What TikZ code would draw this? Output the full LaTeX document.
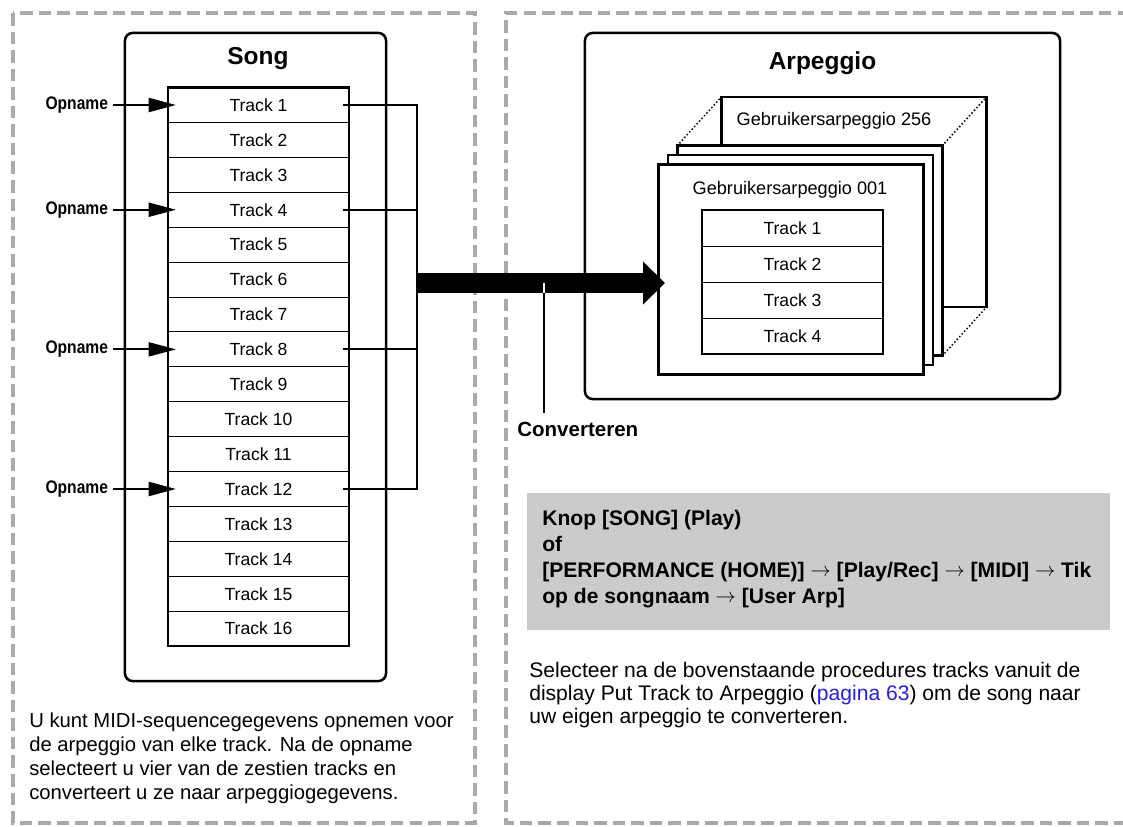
\documentclass[tikz,border=0pt]{standalone}
\usepackage{fontspec}
\setmainfont{Liberation Sans}
\newfontfamily\narrowfont[FakeStretch=0.86]{Liberation Sans}
\newcommand\nextstep{\raisebox{0.8pt}{\fontsize{14}{14}\selectfont$\rightarrow$}}
\usepackage{xcolor}
\usetikzlibrary{positioning,arrows.meta,calc}
\definecolor{dashgray}{HTML}{A9A9AB}
\definecolor{panelfill}{HTML}{CBCBCB}
\definecolor{linkblue}{HTML}{2020F0}

\begin{document}
\begin{tikzpicture}[x=0.025cm,y=-0.025cm,
panel/.style={draw=dashgray,line width=2.8pt,dash pattern=on 8.9pt off 4.3pt},
frame/.style={rectangle,draw,rounded corners=5.5pt,line width=1.8pt,inner sep=0pt},
track/.style={rectangle,draw,line width=0.7pt,inner sep=0pt,outer sep=0pt,
minimum width=4.525cm,minimum height=0.8725cm,font=\fontsize{12.5}{15}\selectfont},
arptrack/.style={track,minimum height=0.9cm},
card/.style={rectangle,draw,fill=white,line width=1.7pt,inner sep=0pt,outer sep=0pt,
minimum width=6.625cm,minimum height=5.25cm},
cardname/.style={anchor=base,font=\fontsize{12.9}{15}\selectfont},
title/.style={anchor=base,font=\bfseries\fontsize{17.4}{20}\selectfont},
rec/.style={font=\narrowfont\bfseries\fontsize{12.9}{15}\selectfont},
feed/.style={line width=1.4pt,-{Triangle[length=19.5pt,width=10pt]}},
link/.style={line width=1.4pt},
convert/.style={line width=14.2pt,-{Triangle[length=15.6pt,width=30.6pt,line width=0pt]}},
spread/.style={line width=1.5pt,line cap=round,dash pattern=on 0pt off 2.6pt},
note/.style={anchor=north west,align=left,inner sep=0pt,font=\fontsize{14.4}{17}\selectfont}]

\useasboundingbox (0,0) rectangle (1123,827);

% dashed panels
\draw[panel] (13,13) rectangle (475,823);
\draw[panel] (1130,13) -- (506,13) -- (506,823) -- (1130,823);

% song
\node[frame,minimum width=6.525cm,minimum height=16.2cm] (song) at (255.5,357) {};
\node[title] (song title) at (258,65) {Song};
\node[track] (track 1) at (258.5,105) {Track 1};
\node[track] (track 2) [below=0pt of track 1] {Track 2};
\node[track] (track 3) [below=0pt of track 2] {Track 3};
\node[track] (track 4) [below=0pt of track 3] {Track 4};
\node[track] (track 5) [below=0pt of track 4] {Track 5};
\node[track] (track 6) [below=0pt of track 5] {Track 6};
\node[track] (track 7) [below=0pt of track 6] {Track 7};
\node[track] (track 8) [below=0pt of track 7] {Track 8};
\node[track] (track 9) [below=0pt of track 8] {Track 9};
\node[track] (track 10) [below=0pt of track 9] {Track 10};
\node[track] (track 11) [below=0pt of track 10] {Track 11};
\node[track] (track 12) [below=0pt of track 11] {Track 12};
\node[track] (track 13) [below=0pt of track 12] {Track 13};
\node[track] (track 14) [below=0pt of track 13] {Track 14};
\node[track] (track 15) [below=0pt of track 14] {Track 15};
\node[track] (track 16) [below=0pt of track 15] {Track 16};
\draw[line width=1.8pt] (track 1.north west) rectangle (track 16.south east);

% recording
\node[rec] (opname 1) [left=1.375cm of track 1] {Opname};
\node[rec] (opname 4) [left=1.375cm of track 4] {Opname};
\node[rec] (opname 8) [left=1.375cm of track 8] {Opname};
\node[rec] (opname 12) [left=1.375cm of track 12] {Opname};
\draw[feed] (opname 1) to ($(track 1.west)+(8,0)$);
\draw[feed] (opname 4) to ($(track 4.west)+(8,0)$);
\draw[feed] (opname 8) to ($(track 8.west)+(8,0)$);
\draw[feed] (opname 12) to ($(track 12.west)+(8,0)$);

% links to the bus
\coordinate (bus top) at ($(track 1.east)+(68,0)$);
\coordinate (bus bottom) at ($(track 12.east)+(68,0)$);
\draw[link] ($(track 1.east)+(-6,0)$) -- (bus top) -- (bus bottom) -- ($(track 12.east)+(-6,0)$);
\draw[link] ($(track 4.east)+(-6,0)$) -- ($(track 4.east)+(68,0)$);
\draw[link] ($(track 8.east)+(-6,0)$) -- ($(track 8.east)+(68,0)$);

% arpeggio
\node[frame,minimum width=11.875cm,minimum height=9.15cm] (arp) at (822.5,216) {};
\node[title] (arp title) at (822.5,70) {Arpeggio};
\node[card] (card 256) at (854,202) {};
\node[card] (card 3) at (810,250.5) {};
\node[card] (card 2) at (800.5,260) {};
\node[card] (card 1) at (791,269.5) {};
\draw[spread] (card 3.north west) -- (card 256.north west)
  (card 3.north east) -- (card 256.north east)
  (card 3.south east) -- (card 256.south east);
\node[cardname] (name 256) at (834,126) {Gebruikersarpeggio 256};
\node[cardname] (name 001) at (790,194) {Gebruikersarpeggio 001};
\node[arptrack] (arp track 1) at (792.5,228) {Track 1};
\node[arptrack] (arp track 2) [below=0pt of arp track 1] {Track 2};
\node[arptrack] (arp track 3) [below=0pt of arp track 2] {Track 3};
\node[arptrack] (arp track 4) [below=0pt of arp track 3] {Track 4};
\draw[line width=1pt] (arp track 1.north west) rectangle (arp track 4.south east);

% convert
\coordinate (conv start) at (417,283);
\draw[convert] (conv start) to ($(card 1.west |- conv start)+(6.5,0)$);
\coordinate (conv tap) at (544,283);
\node[font=\bfseries\fontsize{14.6}{17}\selectfont,anchor=base west,inner sep=0pt] (conv label) at (517,436) {Converteren};
\draw[line width=0.8pt,shorten >=5.7pt] (conv tap) -- (conv tap |- conv label.north);
\draw[white,line width=0.8pt] (conv tap) -- ++(0,10);

% texts
\node[fill=panelfill,minimum width=14.575cm,minimum height=3.425cm,inner sep=0pt] (howto) at (818.5,561.5) {};
\node[note,font=\bfseries\fontsize{15}{18.5}\selectfont] (howto text) at (542,510)
  {Knop [SONG] (Play)\\ of\\\relax [PERFORMANCE (HOME)] \nextstep{} [Play/Rec] \nextstep{} [MIDI] \nextstep{} Tik\\ op de songnaam \nextstep{} [User Arp]};
\node[note,font=\fontsize{15}{16.4}\selectfont] (result text) at (529,662)
  {Selecteer na de bovenstaande procedures tracks vanuit de\\ display Put Track to Arpeggio ({\color{linkblue}pagina 63}) om de song naar\\ uw eigen arpeggio te converteren.};
\node[note] (intro text) at (29,713)
  {U kunt MIDI-sequencegegevens opnemen voor\\ de arpeggio van elke track. Na de opname\\ selecteert u vier van de zestien tracks en\\ converteert u ze naar arpeggiogegevens.};
\end{tikzpicture}
\end{document}
